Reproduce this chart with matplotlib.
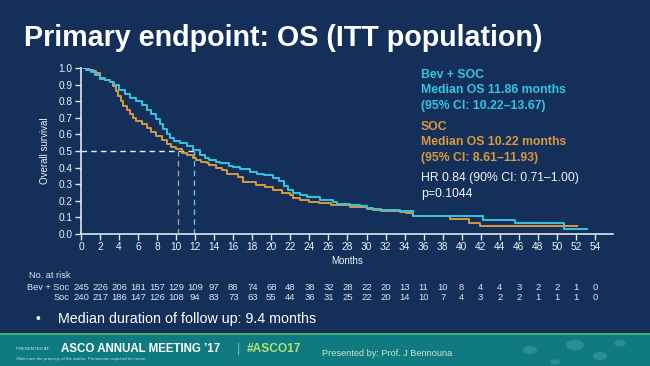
import matplotlib
matplotlib.use("Agg")
import matplotlib.pyplot as plt
from matplotlib.patches import Rectangle, Circle
import matplotlib.transforms as mtransforms

plt.rcParams['font.family'] = ['Liberation Sans', 'DejaVu Sans']

# ---------------- data ----------------
bev_t = [0, 0.5, 1.0, 1.5, 2.0, 2.5, 3.0, 3.5, 4.0, 4.6, 5.2, 5.8, 6.4, 6.9, 7.4, 7.9,
         8.3, 8.6, 9.0, 9.3, 9.8, 10.4, 11.1, 11.8, 12.5, 13.0, 13.5, 14.2, 14.6, 15.6,
         16.0, 16.7, 17.8, 18.5, 19.2, 20.2, 20.8, 21.3, 21.8, 22.3, 23.0, 23.7, 25.1,
         26.5, 26.9, 28.3, 29.3, 30.0, 30.7, 31.8, 33.5, 34.2, 34.9, 42.2, 45.6, 50.8, 53.2]
bev_s = [1.0, 0.99, 0.975, 0.955, 0.935, 0.925, 0.915, 0.9, 0.87, 0.845, 0.82, 0.80,
         0.775, 0.75, 0.72, 0.69, 0.66, 0.63, 0.60, 0.58, 0.56, 0.55, 0.53, 0.505, 0.475,
         0.46, 0.445, 0.435, 0.425, 0.41, 0.405, 0.39, 0.375, 0.36, 0.355, 0.34, 0.32,
         0.29, 0.265, 0.245, 0.235, 0.22, 0.205, 0.195, 0.18, 0.175, 0.17, 0.155, 0.147,
         0.145, 0.14, 0.137, 0.106, 0.086, 0.066, 0.032, 0.032]

soc_t = [0, 0.8, 1.3, 1.6, 2.0, 2.5, 3.0, 3.4, 3.7, 3.9, 4.2, 4.4, 4.8, 5.1, 5.5, 5.8,
         6.4, 6.9, 7.4, 7.9, 8.5, 9.0, 9.5, 10.0, 10.6, 11.1, 11.8, 12.1, 12.6, 13.2,
         13.5, 14.2, 14.8, 15.3, 16.5, 17.0, 18.4, 19.3, 20.2, 21.1, 22.0, 22.3, 23.0,
         24.0, 25.0, 26.3, 28.3, 30.0, 31.5, 33.5, 34.2, 34.9, 38.8, 40.8, 41.9, 52.1]
soc_s = [1.0, 0.99, 0.98, 0.97, 0.94, 0.925, 0.915, 0.89, 0.86, 0.83, 0.80, 0.77, 0.745,
         0.72, 0.70, 0.68, 0.66, 0.64, 0.615, 0.59, 0.565, 0.545, 0.525, 0.51, 0.49,
         0.475, 0.456, 0.445, 0.435, 0.425, 0.416, 0.40, 0.385, 0.36, 0.345, 0.315, 0.295,
         0.285, 0.265, 0.25, 0.235, 0.215, 0.205, 0.195, 0.185, 0.175, 0.16, 0.15, 0.14,
         0.135, 0.127, 0.11, 0.09, 0.066, 0.046, 0.046]

median_bev = 11.86
median_soc = 10.22

risk_months = list(range(0, 55, 2))
risk_bev = [245, 226, 206, 181, 157, 129, 109, 97, 88, 74, 68, 48, 38, 32, 28, 22, 20,
            13, 11, 10, 8, 4, 4, 3, 2, 2, 1, 0]
risk_soc = [240, 217, 186, 147, 126, 108, 94, 83, 73, 63, 55, 44, 36, 31, 25, 22, 20,
            14, 10, 7, 4, 3, 2, 2, 1, 1, 1, 0]

yticks = [0.0, 0.1, 0.2, 0.3, 0.4, 0.5, 0.6, 0.7, 0.8, 0.9, 1.0]

# ---------------- styles ----------------
BG = '#14305a'
CYAN = '#35c5e3'
ORANGE = '#d89a3e'
AXC = '#dfe6ef'
W, H = 650, 366


def P(x, y):
    return (x / W, 1 - y / H)


fig = plt.figure(figsize=(6.5, 3.66), dpi=100, facecolor=BG)

ax = fig.add_axes([81 / W, 1 - 234 / H, (613 - 81) / W, (234 - 68) / H])
ax.set_facecolor(BG)
ax.set_xlim(0, 55.9)
ax.set_ylim(0, 1.0)

ax.step(soc_t, soc_s, where='post', color=ORANGE, lw=1.4, zorder=3)
ax.step(bev_t, bev_s, where='post', color=CYAN, lw=1.4, zorder=4)

ax.plot([0, median_bev], [0.5, 0.5], color='#e8eef5', lw=1.0, ls=(0, (4, 3)), zorder=2)
ax.plot([median_soc, median_soc], [0, 0.5], color='#a49e90', lw=1.0, ls=(0, (4, 3)), zorder=2)
ax.plot([median_bev, median_bev], [0, 0.5], color='#6cb9e3', lw=1.0, ls=(0, (4, 3)), zorder=2)

for s in ['top', 'right']:
    ax.spines[s].set_visible(False)
for s in ['left', 'bottom']:
    ax.spines[s].set_color(AXC)
    ax.spines[s].set_linewidth(1.2)

ax.set_xticks(risk_months)
ax.set_yticks(yticks)
ax.set_yticklabels([f'{v:.1f}' for v in yticks])
ax.tick_params(colors=AXC, labelcolor='#eef2f7', labelsize=7.3, width=1.0, length=4, pad=2)
ax.set_xlabel('Months', color='#eef2f7', fontsize=7, labelpad=3)
ax.set_ylabel('Overall survival', color='#eef2f7', fontsize=7, labelpad=6)

# annotations
ann = [
    ('Bev + SOC', 75, CYAN, 'bold'),
    ('Median OS 11.86 months', 90, CYAN, 'bold'),
    ('(95% CI: 10.22\u201313.67)', 106, CYAN, 'bold'),
    ('SOC', 127, ORANGE, 'bold'),
    ('Median OS 10.22 months', 142, ORANGE, 'bold'),
    ('(95% CI: 8.61\u201311.93)', 158, ORANGE, 'bold'),
    ('HR 0.84 (90% CI: 0.71\u20131.00)', 178, '#f2f4f8', 'normal'),
    ('p=0.1044', 194, '#f2f4f8', 'normal'),
]
for txt, y, c, wt in ann:
    fig.text(*P(421, y), txt, color=c, fontsize=8.8, fontweight=wt, va='center', ha='left')

# title
fig.text(*P(24, 46), 'Primary endpoint: OS (ITT population)', color='white',
         fontsize=20.6, fontweight='bold', va='baseline', ha='left')

# at risk table
trans = mtransforms.blended_transform_factory(ax.transData, fig.transFigure)
fig.text(*P(29, 275), 'No. at risk', color='#dfe4ec', fontsize=6.6, va='center')
fig.text(*P(69, 287), 'Bev + Soc', color='#dfe4ec', fontsize=6.6, va='center', ha='right')
fig.text(*P(69, 298), 'Soc', color='#dfe4ec', fontsize=6.6, va='center', ha='right')
for m, a, b in zip(risk_months, risk_bev, risk_soc):
    ax.text(m, 1 - 287 / H, str(a), transform=trans, color='#dfe4ec', fontsize=6.8,
            ha='center', va='center', clip_on=False)
    ax.text(m, 1 - 298 / H, str(b), transform=trans, color='#dfe4ec', fontsize=6.8,
            ha='center', va='center', clip_on=False)

fig.text(*P(36, 319), '\u2022', color='white', fontsize=10, va='center')
fig.text(*P(58, 319), 'Median duration of follow up: 9.4 months', color='white',
         fontsize=10.3, va='center')

# footer
fig.patches.append(Rectangle(P(0, 366), 1, 33 / H, transform=fig.transFigure,
                             facecolor='#0f7b80', edgecolor='none', zorder=0))
fig.patches.append(Rectangle(P(0, 335), 1, 2.2 / H, transform=fig.transFigure,
                             facecolor='#4aae6a', edgecolor='none', zorder=1))
for cx, cy, r in [(530, 350, 7), (575, 345, 9), (600, 356, 7), (620, 343, 6), (555, 362, 5)]:
    fig.patches.append(Circle(P(cx, cy), r / W, transform=fig.transFigure,
                              facecolor='#3f9ca3', edgecolor='none', alpha=0.6, zorder=1))
fig.text(*P(16, 349), 'PRESENTED AT:', color='#cfe3e6', fontsize=3.2, va='center')
fig.text(*P(61, 349), 'ASCO ANNUAL MEETING \u201917', color='white', fontsize=8.3,
         fontweight='bold', va='center')
fig.text(*P(237, 349), '|', color='#7fb8bd', fontsize=9, va='center')
fig.text(*P(247, 349), '#ASCO17', color='#b6e27a', fontsize=8.6, fontweight='bold', va='center')
fig.text(*P(16, 359), 'Slides are the property of the author. Permission required for reuse.',
         color='#cfe3e6', fontsize=3.2, style='italic', va='center')
fig.text(*P(322, 353), 'Presented by: Prof. J Bennouna', color='#c9ebc9', fontsize=6.6,
         va='center')

fig.savefig('out.png', dpi=100, facecolor=BG)
